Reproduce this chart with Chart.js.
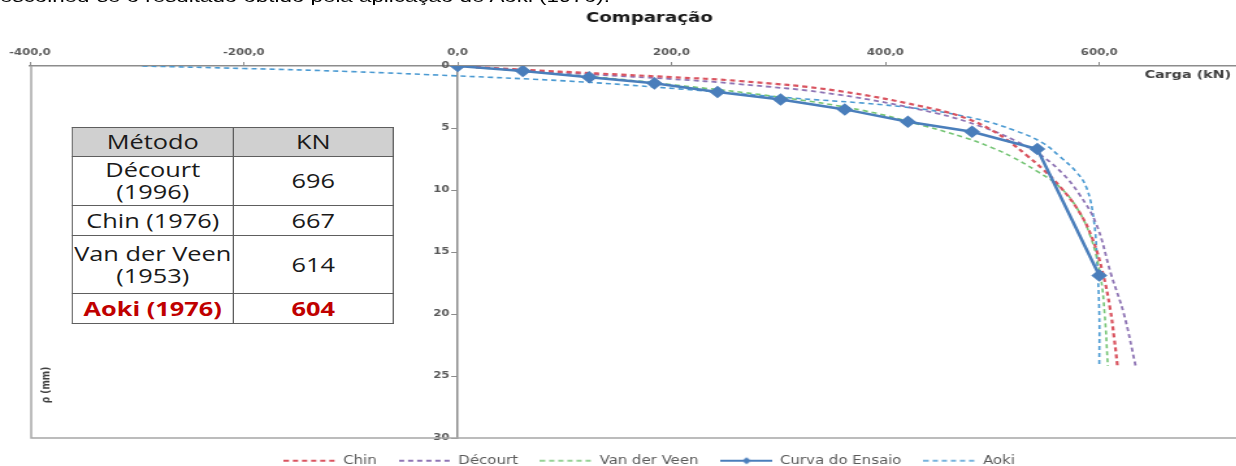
<!DOCTYPE html>
<html lang="pt">
<head>
<meta charset="utf-8">
<title>Comparação</title>
<script src="https://cdn.jsdelivr.net/npm/chart.js@4.4.1/dist/chart.umd.min.js"></script>
<style>
  html, body { margin: 0; padding: 0; overflow: hidden; background: #fff; width: 1236px; height: 466px; }
  /* a figura original está esticada na horizontal, por isso o scaleX */
  #page { position: absolute; left: 0; top: 0; width: 976px; height: 466px; transform: scaleX(1.3); transform-origin: 0 0; }
  #intro { position: absolute; left: 0; top: -14px; font: 17.2px/20px "Liberation Sans", Arial, sans-serif; color: #000; white-space: nowrap; }
  #grafico { position: absolute; left: 0; top: 0; }
  #metodos { position: absolute; left: 55px; top: 127px; width: 247px; table-layout: fixed; border-collapse: collapse; font-family: "Open Sans", sans-serif; font-size: 19.5px; line-height: 22px; color: #1a1a1a; background: #fff; }
  #metodos th, #metodos td { border: 1px solid #5e5e5e; text-align: center; padding: 0; white-space: pre-line; font-weight: normal; overflow: visible; }
  #metodos th { background: #d0d0d0; height: 28px; }
  #metodos tr:nth-child(2) td { height: 48px; }
  #metodos tr:nth-child(3) td { height: 29px; }
  #metodos tr:nth-child(4) td { height: 57px; }
  #metodos tr:nth-child(5) td { height: 29px; color: #c00000; font-weight: bold; }
</style>
</head>
<body>
<div id="page">
  <div id="intro">escolheu-se o resultado obtido pela aplicação de Aoki (1976).</div>
  <canvas id="grafico" width="976" height="466"></canvas>
  <table id="metodos">
    <colgroup><col style="width:124px"><col style="width:123px"></colgroup>
  </table>
</div>

<script>
const xTicks = [-400, -200, 0, 200, 400, 600];
const yTicks = [0, 5, 10, 15, 20, 25, 30];

// tabela de carga de ruptura
const metodos = ["Décourt\n(1996)", "Chin (1976)", "Van der Veen\n(1953)", "Aoki (1976)"];
const cargasRuptura = [696, 667, 614, 604];

// curva do ensaio (kN, mm)
const ensaioCarga = [0, 61, 123, 184, 243, 302, 362, 421, 481, 542, 600];
const ensaioRecalque = [0, 0.4, 0.9, 1.4, 2.1, 2.7, 3.5, 4.5, 5.3, 6.7, 16.9];

// curvas extrapoladas
const chinCarga = [0, 60, 130, 200, 262, 355, 447, 478, 500, 516, 532, 547, 562, 580, 593, 603, 610, 614, 617];
const chinRecalque = [0, 0.3, 0.6, 0.9, 1.2, 2.0, 3.5, 4.3, 5.2, 6.1, 7.2, 8.3, 9.6, 11.6, 13.8, 16.6, 19.5, 22, 24.2];

const decourtCarga = [0, 60, 130, 200, 262, 355, 447, 490, 521, 547, 566, 581, 597, 611, 623, 634];
const decourtRecalque = [0, 0.35, 0.7, 1.05, 1.45, 2.3, 3.8, 4.9, 6.0, 7.3, 8.7, 10.3, 12.7, 16.8, 20, 24.2];

const veenCarga = [0, 60, 130, 200, 300, 380, 435, 475, 500, 520, 542, 561, 578, 592, 601, 605, 608];
const veenRecalque = [0, 0.4, 0.9, 1.5, 2.5, 3.6, 4.8, 5.8, 6.6, 7.4, 8.5, 9.6, 11.3, 13.8, 16.9, 20, 24.2];

const aokiCarga = [-295, -200, -100, 0, 100, 185, 300, 417, 482, 521, 547, 563, 578, 588, 595, 598, 600, 600];
const aokiRecalque = [0, 0.2, 0.45, 0.8, 1.2, 1.7, 2.5, 3.3, 4.2, 5.2, 6.2, 7.3, 8.5, 9.8, 12.5, 16, 20, 24.2];

// monta a tabela
const tabela = document.getElementById("metodos");
let html = "<tr><th>Método</th><th>KN</th></tr>";
for (let i = 0; i < metodos.length; i++) {
    html += `<tr><td>${metodos[i]}</td><td>${cargasRuptura[i]}</td></tr>`;
}
tabela.insertAdjacentHTML("beforeend", html);

function pares(carga, recalque) {
    return carga.map((q, i) => ({ x: q, y: recalque[i] }));
}

// amostra da legenda desenhada num canvas pequeno
function amostra(cor, largura, tracos, losango) {
    const c = document.createElement("canvas");
    c.width = 40;
    c.height = 10;
    const g = c.getContext("2d");
    g.strokeStyle = cor;
    g.fillStyle = cor;
    g.lineWidth = largura;
    g.setLineDash(tracos || []);
    g.beginPath();
    g.moveTo(0, 5);
    g.lineTo(40, 5);
    g.stroke();
    if (losango) {
        g.beginPath();
        g.moveTo(20, 1.5);
        g.lineTo(23.5, 5);
        g.lineTo(20, 8.5);
        g.lineTo(16.5, 5);
        g.closePath();
        g.fill();
    }
    return c;
}

const fonteEixo = { family: "DejaVu Sans", size: 9, weight: "bold" };

const moldura = {
    id: "moldura",
    beforeDatasetsDraw(chart) {
        const { ctx, chartArea: a } = chart;
        ctx.save();
        ctx.strokeStyle = "#a6a6a6";
        ctx.lineWidth = 1.5;
        ctx.beginPath();
        ctx.moveTo(a.left + 1, a.top);
        ctx.lineTo(a.left + 1, a.bottom);
        ctx.lineTo(a.right, a.bottom);
        ctx.stroke();

        ctx.font = "bold 11px 'DejaVu Sans'";
        ctx.fillStyle = "#404040";
        ctx.textBaseline = "middle";
        ctx.textAlign = "right";
        ctx.fillText("Carga (kN)", a.right - 22, a.top + 9);

        ctx.font = "bold 9px 'DejaVu Sans'";
        ctx.translate(a.left + 13, a.bottom - 53);
        ctx.rotate(-Math.PI / 2);
        ctx.textAlign = "center";
        ctx.fillText("ρ (mm)", 0, 0);
        ctx.restore();
    }
};

const tracejado = [4, 3];

new Chart(document.getElementById("grafico"), {
    type: "scatter",
    data: {
        datasets: [
            {
                label: "Chin",
                data: pares(chinCarga, chinRecalque),
                showLine: true,
                borderColor: "#d9535f",
                borderWidth: 2.2,
                borderDash: tracejado,
                pointRadius: 0,
                tension: 0.4
            },
            {
                label: "Décourt",
                data: pares(decourtCarga, decourtRecalque),
                showLine: true,
                borderColor: "#8e74b4",
                borderWidth: 1.8,
                borderDash: tracejado,
                pointRadius: 0,
                tension: 0.4
            },
            {
                label: "Van der Veen",
                data: pares(veenCarga, veenRecalque),
                showLine: true,
                borderColor: "#74c474",
                borderWidth: 1.6,
                borderDash: tracejado,
                pointRadius: 0,
                tension: 0.4
            },
            {
                label: "Curva do Ensaio",
                data: pares(ensaioCarga, ensaioRecalque),
                showLine: true,
                borderColor: "#4a7ebb",
                backgroundColor: "#4a7ebb",
                borderWidth: 2.5,
                pointStyle: "rectRot",
                pointRadius: 4.5,
                tension: 0,
                order: -1
            },
            {
                label: "Aoki",
                data: pares(aokiCarga, aokiRecalque),
                showLine: true,
                borderColor: "#4b9ad2",
                borderWidth: 1.6,
                borderDash: tracejado,
                pointRadius: 0,
                tension: 0.4
            }
        ]
    },
    options: {
        responsive: false,
        animation: false,
        layout: { padding: { left: 23, right: 0, top: 0, bottom: -10.5 } },
        scales: {
            x: {
                type: "linear",
                position: "top",
                min: -400,
                max: 750,
                afterFit(s) { s.height = 39.2; },
                afterBuildTicks(s) { s.ticks = xTicks.map(v => ({ value: v })); },
                border: { color: "#8c8c8c", width: 1.5 },
                grid: { drawOnChartArea: false, tickLength: 4, color: "#8c8c8c" },
                ticks: {
                    callback: v => v.toFixed(1).replace(".", ","),
                    maxRotation: 0,
                    font: fonteEixo,
                    color: "#595959",
                    padding: 4
                }
            },
            y: {
                type: "linear",
                position: { x: 0 },
                reverse: true,
                min: 0,
                max: 30,
                afterFit(s) { s.width = 0; },
                afterBuildTicks(s) { s.ticks = yTicks.map(v => ({ value: v })); },
                border: { color: "#8c8c8c", width: 1.5 },
                grid: { drawOnChartArea: false, tickLength: 4, color: "#8c8c8c" },
                // o rótulo cola no eixo quando ele fica no meio, daí os espaços
                ticks: { callback: v => v + "\u00a0\u00a0", font: fonteEixo, color: "#595959" }
            }
        },
        plugins: {
            title: {
                display: true,
                text: "Comparação",
                font: { family: "DejaVu Sans", size: 14, weight: "bold" },
                color: "#1a1a1a",
                padding: { top: 10, bottom: 0 }
            },
            legend: {
                position: "bottom",
                labels: {
                    usePointStyle: true,
                    pointStyleWidth: 40,
                    boxHeight: 8,
                    padding: 17,
                    font: { family: "DejaVu Sans", size: 11.5 },
                    color: "#595959",
                    sort: (a, b) => a.datasetIndex - b.datasetIndex,
                    generateLabels(chart) {
                        const itens = Chart.defaults.plugins.legend.labels.generateLabels(chart);
                        itens.forEach(it => {
                            const ds = chart.data.datasets[it.datasetIndex];
                            it.pointStyle = amostra(ds.borderColor, Math.min(ds.borderWidth, 2), ds.borderDash, it.datasetIndex === 3);
                        });
                        return itens;
                    }
                }
            },
            tooltip: { enabled: false }
        }
    },
    plugins: [moldura]
});
</script>
</body>
</html>
